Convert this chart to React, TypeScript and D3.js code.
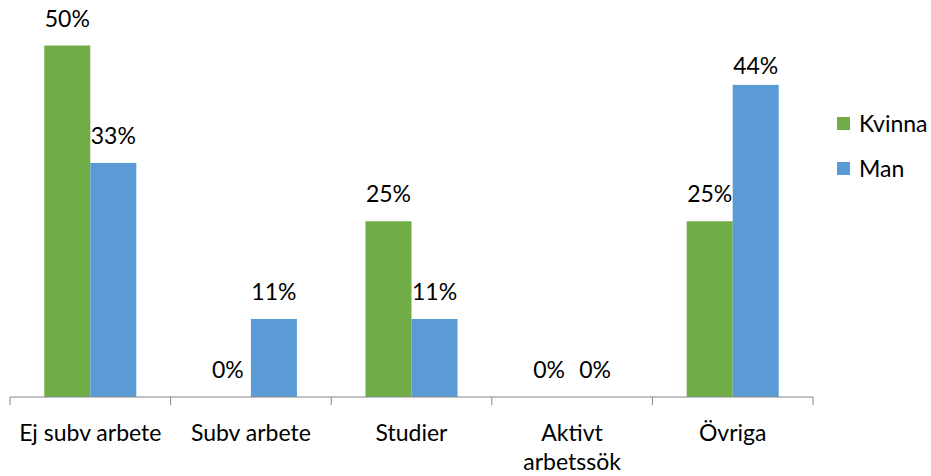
import React from "react";
import * as d3 from "d3";

const categories = ["Ej subv arbete", "Subv arbete", "Studier", "Aktivt arbetssök", "Övriga"];
const categoryLines = [["Ej subv arbete"], ["Subv arbete"], ["Studier"], ["Aktivt", "arbetssök"], ["Övriga"]];
const seriesNames = ["Kvinna", "Man"];
const kvinna = [50, 0, 25, 0, 25];
const man = [33.3, 11.1, 11.1, 0, 44.4];
const colors = ["#70AD47", "#5B9BD5"];

export default function App() {
  const W = 931, H = 476;
  const x0 = 10, x1 = 813, yBase = 397;
  const x = d3.scaleBand().domain(categories).range([x0, x1]).paddingInner(0).paddingOuter(0);
  const xs = d3.scaleBand().domain(seriesNames).range([0, x.bandwidth()]).paddingInner(0).paddingOuter(0.745);
  const y = d3.scaleLinear().domain([0, 50]).range([yBase, 45.5]);
  const values = [kvinna, man];
  const font = "Lato, 'Liberation Sans', sans-serif";
  const fs = 23;
  const ticks = categories.map((c) => x(c)!).concat([x1]);
  const fmt = d3.format(".0f");
  return (
    <svg width={W} height={H} style={{ position: "absolute", left: 0, top: 0, background: "#fff" }} fontFamily={font}>
      {values.map((vals, si) =>
        categories.map((c, ci) => {
          const bx = x(c)! + xs(seriesNames[si])!;
          const v = vals[ci];
          const nudge = si === 1 && ci === 4 ? 8 : 0;
          return (
            <g key={`${si}-${ci}`}>
              {v > 0 && (
                <rect x={bx} y={y(v)} width={xs.bandwidth()} height={yBase - y(v)} fill={colors[si]} />
              )}
              <text x={bx + xs.bandwidth() / 2} y={y(v) - 19 + nudge} textAnchor="middle" fontSize={fs} fill="#000">
                {fmt(v)}%
              </text>
            </g>
          );
        })
      )}
      <line x1={x0} x2={x1} y1={yBase} y2={yBase} stroke="#868686" strokeWidth={1} />
      {ticks.map((t, i) => (
        <line key={i} x1={t} x2={t} y1={yBase} y2={yBase + 8} stroke="#868686" strokeWidth={1} />
      ))}
      {categories.map((c, ci) =>
        categoryLines[ci].map((line, li) => (
          <text key={`${ci}-${li}`} x={x(c)! + x.bandwidth() / 2} y={441 + li * 29} textAnchor="middle" fontSize={fs} fill="#000">
            {line}
          </text>
        ))
      )}
      {seriesNames.map((s, i) => (
        <g key={s} transform={`translate(837, ${117 + i * 45})`}>
          <rect x={0} y={0} width={13} height={13} fill={colors[i]} />
          <text x={22} y={15} fontSize={fs} fill="#000">{s}</text>
        </g>
      ))}
    </svg>
  );
}
